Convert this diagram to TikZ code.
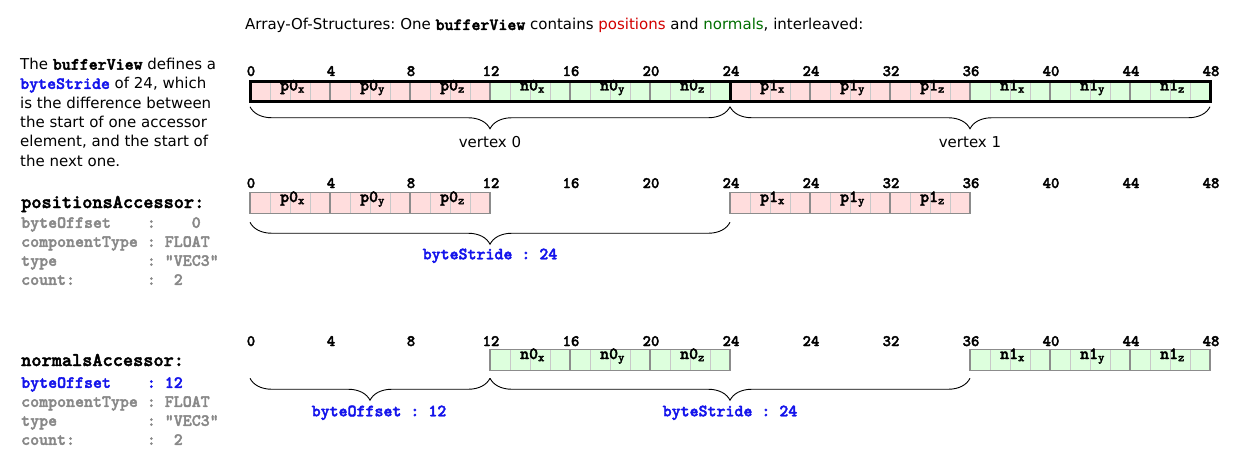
\documentclass[tikz,border=0pt]{standalone}
\usepackage{fontspec}
\setmainfont{DejaVu Sans}
\setmonofont[Scale=1.14, BoldFont=lmmonolt10-bold.otf, BoldFeatures={FakeBold=2.2}]{lmmono10-regular.otf}
\usepackage{xcolor}
\usetikzlibrary{positioning,calc,decorations.pathreplacing}

\definecolor{posfill}{RGB}{255,221,221}
\definecolor{nrmfill}{RGB}{221,255,221}
\definecolor{cellgray}{RGB}{140,140,140}
\definecolor{bytegray}{RGB}{200,200,200}
\definecolor{keygray}{RGB}{136,136,136}
\definecolor{posred}{RGB}{210,0,0}
\definecolor{nrmgreen}{RGB}{0,110,0}
\definecolor{strideblue}{RGB}{20,20,235}

\newcommand{\elem}[2]{\hspace*{5pt}#1\textsubscript{#2}}
\newcommand{\accline}[2]{\makebox[14\fontcharwd\font`x][l]{#1}:\ #2}
\frenchspacing

\begin{document}
\begin{tikzpicture}[
  x=1pt, y=-1pt,
  txt/.style={font={\fontsize{15}{19.3}\selectfont}, inner sep=0pt},
  mono/.style={font={\fontsize{15}{19}\selectfont\ttfamily\bfseries}, inner sep=0pt},
  tick/.style={font={\fontsize{14}{14}\selectfont\ttfamily\bfseries}, inner sep=0pt, anchor=base},
  cell/.style={draw=cellgray, line width=1.2pt, outer sep=0pt, inner sep=0pt,
               minimum width=80pt, minimum height=20.5pt, text height=1pt, text depth=3pt,
               font={\fontsize{15}{15}\selectfont\ttfamily\bfseries},
               path picture={\foreach \k in {1,2,3}
                 \draw[bytegray, line width=0.8pt] ([xshift=\k*20pt]path picture bounding box.south west)
                   -- ([xshift=\k*20pt]path picture bounding box.north west);}},
  brc/.style={decorate, decoration={brace, mirror, amplitude=22pt}, line width=0.9pt},
  brlab/.style={mono, text=strideblue, anchor=base}
]
\useasboundingbox (0,0) rectangle (1246,465);
% ----- title and left column -----
\node[txt, anchor=base west] (title) at (245,30)
  {Array-Of-Structures: One \texttt{\textbf{bufferView}} contains \textcolor{posred}{positions} and \textcolor{nrmgreen}{normals}, interleaved:};
\node[txt, align=left, anchor=north west] (strideinfo) at (20,58)
  {The \texttt{\textbf{bufferView}} defines a\\
   \textcolor{strideblue}{\texttt{\textbf{byteStride}}} of 24, which\\
   is the difference between\\
   the start of one accessor\\
   element, and the start of\\
   the next one.};
\node[mono, font={\fontsize{17}{19}\selectfont\ttfamily\bfseries}, anchor=base west] (posacc) at (21,208) {positionsAccessor:};
\node[mono, text=keygray, align=left, anchor=north west] (posfields) at (21,217)
  {\accline{byteOffset}{\ \ \ 0}\\
   \accline{componentType}{FLOAT}\\
   \accline{type}{"VEC3"}\\
   \accline{count:}{\ 2}};
\node[mono, font={\fontsize{17}{19}\selectfont\ttfamily\bfseries}, anchor=base west] (nrmacc) at (21,366) {normalsAccessor:};
\node[mono, text=keygray, align=left, anchor=north west] (nrmfields) at (21,377)
  {\textcolor{strideblue}{\accline{byteOffset}{12}}\\
   \accline{componentType}{FLOAT}\\
   \accline{type}{"VEC3"}\\
   \accline{count:}{\ 2}};
% ----- byte offsets above each row -----
\foreach \row/\yb in {view/76, pos/188, nrm/346}
  \foreach \t [count=\i from 0] in {0,4,8,12,16,20,24,24,32,36,40,44,48}
    \node[tick] (\row tick\i) at (251+80*\i, \yb) {\t};
% ----- interleaved buffer view -----
\foreach \e/\s/\fc [count=\i from 0] in {p0/x/posfill, p0/y/posfill, p0/z/posfill, n0/x/nrmfill, n0/y/nrmfill, n0/z/nrmfill,
                                          p1/x/posfill, p1/y/posfill, p1/z/posfill, n1/x/nrmfill, n1/y/nrmfill, n1/z/nrmfill}
  \node[cell, fill=\fc] (view\i) at (290+80*\i, 91.5) {\elem{\e}{\s}};
\draw[line width=3pt] (view0.north west) rectangle (view11.south east);
\draw[line width=3pt] (view5.north east) -- (view5.south east);
\draw[brc] ($(view0.south west)+(0,5)$) -- node[txt, anchor=base, yshift=-41pt] {vertex 0} ($(view5.south east)+(0,5)$);
\draw[brc] ($(view6.south west)+(0,5)$) -- node[txt, anchor=base, yshift=-41pt] {vertex 1} ($(view11.south east)+(0,5)$);
% ----- positions accessor -----
\foreach \e/\s/\xc [count=\i from 0] in {p0/x/290, p0/y/370, p0/z/450, p1/x/770, p1/y/850, p1/z/930}
  \node[cell, fill=posfill] (pos\i) at (\xc, 203) {\elem{\e}{\s}};
\draw[brc] ($(pos0.south west)+(0,9)$) -- node[brlab, yshift=-37pt] {byteStride : 24} ($(pos3.south west)+(0,9)$);
% ----- normals accessor -----
\foreach \e/\s/\xc [count=\i from 0] in {n0/x/530, n0/y/610, n0/z/690, n1/x/1010, n1/y/1090, n1/z/1170}
  \node[cell, fill=nrmfill] (nrm\i) at (\xc, 360) {\elem{\e}{\s}};
\draw[brc] ($(view0.west |- nrm0.south)+(0,8)$) -- node[brlab, yshift=-38pt, xshift=9pt] {byteOffset : 12} ($(nrm0.south west)+(0,8)$);
\draw[brc] ($(nrm0.south west)+(0,8)$) -- node[brlab, yshift=-38pt] {byteStride : 24} ($(nrm3.south west)+(0,8)$);
\end{tikzpicture}
\end{document}
